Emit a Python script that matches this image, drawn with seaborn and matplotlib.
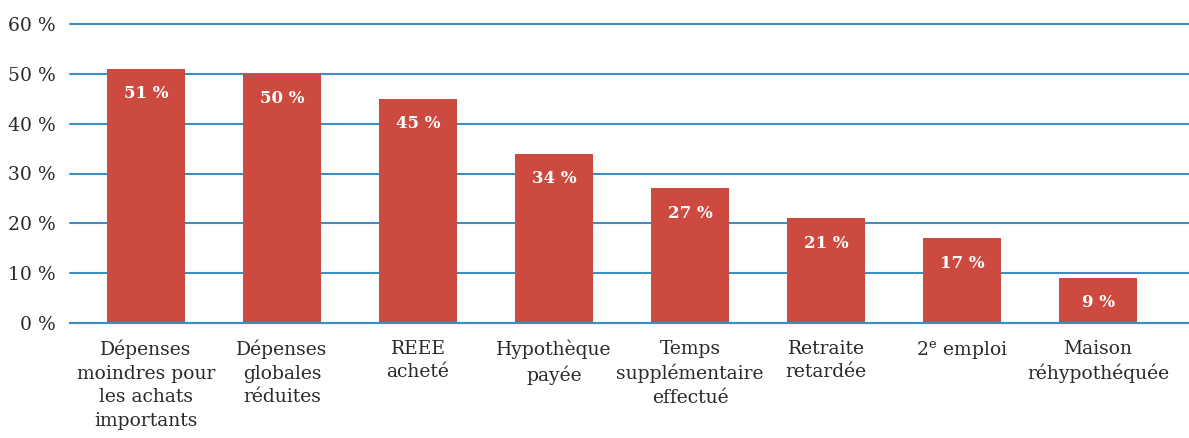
import matplotlib
matplotlib.use("Agg")
import matplotlib.pyplot as plt
import seaborn as sns
import pandas as pd

categories = [
    "Dépenses\nmoindres pour\nles achats\nimportants",
    "Dépenses\nglobales\nréduites",
    "REEE\nacheté",
    "Hypothèque\npayée",
    "Temps\nsupplémentaire\neffectué",
    "Retraite\nretardée",
    "2$^{\\mathrm{e}}$ emploi",
    "Maison\nréhypothéquée",
]
values = [51, 50, 45, 34, 27, 21, 17, 9]
y_ticks = [0, 10, 20, 30, 40, 50, 60]

sns.set_theme(style="white")
plt.rcParams["font.family"] = ["DejaVu Serif"]
plt.rcParams["mathtext.fontset"] = "custom"
plt.rcParams["mathtext.rm"] = "DejaVu Serif"

BAR = "#cc4a40"
BLUE = "#3d8fc2"
TXT = "#2a2a2a"

df = pd.DataFrame({"cat": categories, "val": values})

fig = plt.figure(figsize=(11.89, 4.38), dpi=100)
ax = fig.add_axes([70 / 1189, (438 - 323) / 438, 1 - 70 / 1189, (323 - 24) / 438])

sns.barplot(data=df, x="cat", y="val", color=BAR, saturation=1, width=0.57,
            linewidth=0, edgecolor="none", ax=ax, zorder=3)

x_left = -0.5 - 8 / 136
ax.set_ylim(0, 60)
ax.set_xlim(x_left, 7.5 + 23 / 136)
ax.set_yticks(y_ticks)
ax.set_yticklabels([f"{t} %" for t in y_ticks], fontsize=13.5, color=TXT)
ax.yaxis.grid(True, color=BLUE, linewidth=1.5, zorder=0)
ax.xaxis.grid(False)
ax.tick_params(axis="y", length=0, pad=10)
for gl in ax.get_ygridlines():
    gl.set_clip_on(False)

ax.set_xticks(range(len(categories)))
ax.set_xticklabels(categories, fontsize=13.5, color=TXT, linespacing=1.4)
ax.tick_params(axis="x", which="major", length=0, pad=12)
ax.set_xticks([x_left] + [i + 0.5 for i in range(len(categories))], minor=True)
ax.tick_params(axis="x", which="minor", length=6, width=1.2, color=BLUE, direction="out")

for s in ["left", "right", "top"]:
    ax.spines[s].set_visible(False)
ax.spines["bottom"].set_color(BLUE)
ax.spines["bottom"].set_linewidth(1.5)
ax.spines["bottom"].set_zorder(4)

ax.set_xlabel("")
ax.set_ylabel("")

for c in ax.containers:
    ax.bar_label(c, labels=[f"{v} %" for v in values], padding=-24,
                 color="white", fontsize=12, fontweight="bold")

fig.savefig("out.png", dpi=100)
